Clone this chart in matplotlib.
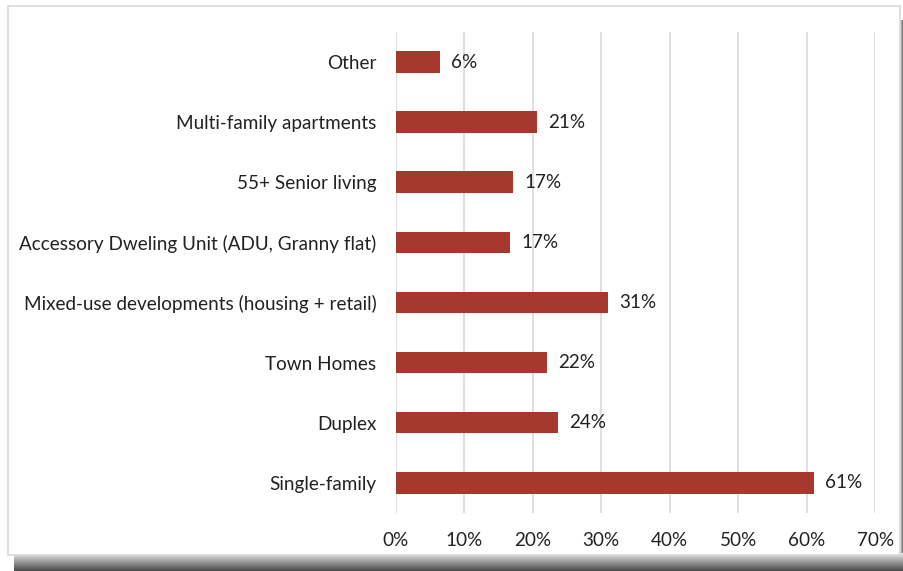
import matplotlib
matplotlib.use("Agg")
import matplotlib.pyplot as plt
import numpy as np
from matplotlib.patches import Rectangle

categories = [
    "Single-family",
    "Duplex",
    "Town Homes",
    "Mixed-use developments (housing + retail)",
    "Accessory Dweling Unit (ADU, Granny flat)",
    "55+ Senior living",
    "Multi-family apartments",
    "Other",
]
values = [61.1, 23.7, 22.1, 31.0, 16.7, 17.1, 20.6, 6.4]
value_labels = ["61%", "24%", "22%", "31%", "17%", "17%", "21%", "6%"]
xticks = [0, 10, 20, 30, 40, 50, 60, 70]

plt.rcParams["font.family"] = ["Lato", "DejaVu Sans"]
fs = 13.6

fig = plt.figure(figsize=(9.04, 5.71), dpi=100)
fig.patch.set_facecolor("white")

# chart frame with a drop shadow at the bottom and right
bg = fig.add_axes([0, 0, 1, 1], zorder=-10)
bg.set_xlim(0, 904)
bg.set_ylim(571, 0)
bg.axis("off")
shade = np.linspace(0.9, 0.3, 20).reshape(-1, 1)
bg.imshow(shade, cmap="gray", vmin=0, vmax=1, extent=[14, 904, 571, 553], aspect="auto")
bg.imshow(np.linspace(0.8, 0.35, 4).reshape(1, -1), cmap="gray", vmin=0, vmax=1,
          extent=[900, 904, 553, 20], aspect="auto")
bg.add_patch(Rectangle((8, 6), 892, 549, facecolor="white", edgecolor="#D9D9D9", lw=1.2))

ax = fig.add_axes([0.438, 0.102, 0.530, 0.842])
y = np.arange(len(categories))
ax.barh(y, values, height=0.36, color="#A5392D", zorder=3)
for yi, v, lab in zip(y, values, value_labels):
    ax.text(v + 1.6, yi, lab, va="center", ha="left", fontsize=fs, color="#222222")

ax.set_xlim(0, 70)
ax.set_ylim(-0.5, len(categories) - 0.5)
ax.set_xticks(xticks)
ax.set_xticklabels([f"{t}%" for t in xticks], fontsize=fs, color="#222222")
ax.set_yticks(y)
ax.set_yticklabels(categories, fontsize=fs, color="#222222")
ax.tick_params(axis="both", length=0)
ax.tick_params(axis="y", pad=14)
ax.tick_params(axis="x", pad=14)
ax.grid(axis="x", color="#D9D9D9", lw=1.2, zorder=0)
for s in ax.spines.values():
    s.set_visible(False)
ax.set_facecolor("none")

fig.savefig("out.png", dpi=100)
